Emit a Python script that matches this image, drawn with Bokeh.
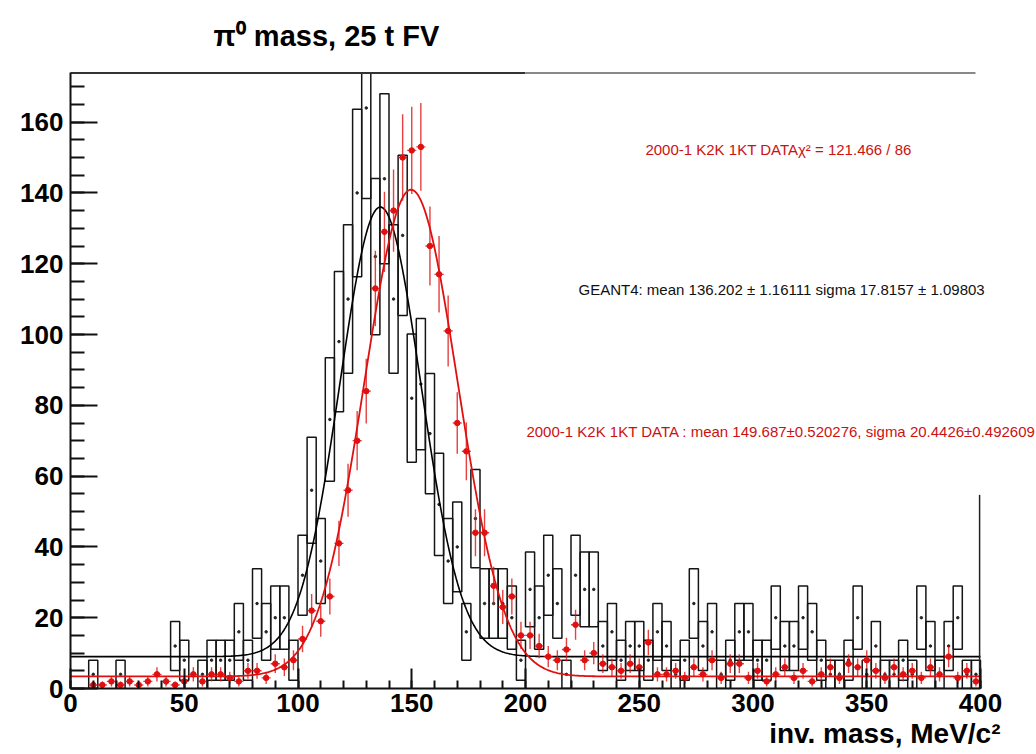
import numpy as np
from bokeh.plotting import figure
from bokeh.models import Label, Range1d, FixedTicker, ColumnDataSource, Title
from bokeh.embed import file_html
from bokeh.resources import INLINE

# ---------------- data ----------------
bin_width = 4.0
bin_low = [4.0 * i for i in range(100)]

# GEANT4 MC (scaled histogram, scale factor 4)
mc_scale = 4.0
mc_values = [0, 0, 4, 0, 0, 4, 0, 0, 0, 0,
             0, 12, 8, 0, 4, 8, 8, 8, 16, 8,
             24, 16, 20, 20, 8, 32, 56, 36, 76, 98,
             110, 140, 164, 122, 144, 110, 128, 82, 86, 72,
             52, 36, 40, 16, 48, 24, 24, 24, 20, 8,
             28, 20, 32, 24, 4, 32, 28, 28, 12, 16,
             8, 12, 12, 8, 16, 12, 4, 8, 24, 12,
             16, 4, 8, 16, 16, 8, 8, 20, 12, 12,
             20, 16, 8, 4, 4, 8, 20, 4, 12, 4,
             4, 8, 4, 20, 12, 4, 12, 20, 4, 4]

# 2000-1 K2K 1KT data counts
data_counts = [0, 0, 1, 1, 2, 1, 2, 1, 2, 4,
               2, 1, 2, 4, 2, 4, 4, 3, 2, 5,
               5, 3, 7, 6, 8, 14, 22, 19, 26, 41,
               56, 70, 84, 113, 129, 135, 150, 152, 153, 125,
               117, 101, 75, 67, 44, 44, 29, 23, 26, 15,
               15, 12, 9, 8, 11, 18, 8, 10, 7, 6,
               5, 7, 6, 13, 4, 4, 5, 3, 6, 4,
               8, 3, 7, 7, 3, 5, 2, 4, 6, 3,
               5, 2, 4, 6, 3, 7, 6, 8, 5, 3,
               6, 4, 5, 3, 6, 4, 9, 3, 5, 2]

# fit results
geant_mean, geant_sigma, geant_amp, geant_const = 136.202, 17.8157, 127.0, 9.0
data_mean, data_sigma, data_amp, data_const = 149.687, 20.4426, 137.5, 3.4

title_text = "\u03c0\u2070 mass, 25 t FV"
xlabel_text = "inv. mass, MeV/c\u00b2"
chi2_text = "2000-1 K2K 1KT DATA\u03c7\u00b2 = 121.466 / 86"
geant_text = "GEANT4: mean 136.202 \u00b1 1.16111 sigma 17.8157 \u00b1 1.09803"
data_text = "2000-1 K2K 1KT DATA : mean 149.687\u00b10.520276, sigma 20.4426\u00b10.492609"

x_ticks = [0, 50, 100, 150, 200, 250, 300, 350, 400]
y_ticks = [0, 20, 40, 60, 80, 100, 120, 140, 160]
x_minor = list(range(0, 401, 10))
y_minor = list(range(0, 175, 5))

# ---------------- derived ----------------
lo = np.array(bin_low)
mc = np.array(mc_values, dtype=float)
dc = np.array(data_counts, dtype=float)
centers = lo + bin_width / 2

m_mc = mc > 0
mc_err = np.sqrt(mc_scale * mc)
mc_src = ColumnDataSource(dict(left=lo[m_mc], right=lo[m_mc] + bin_width,
                               bottom=(mc - mc_err)[m_mc], top=(mc + mc_err)[m_mc],
                               x=centers[m_mc], y=mc[m_mc]))

m_d = dc > 0
d_err = np.sqrt(dc)
d_src = ColumnDataSource(dict(x=centers[m_d], y=dc[m_d],
                              lo=(dc - d_err)[m_d], hi=(dc + d_err)[m_d],
                              xl=lo[m_d], xr=lo[m_d] + bin_width))

xf = np.linspace(0, 400, 801)
yf_geant = geant_amp * np.exp(-0.5 * ((xf - geant_mean) / geant_sigma) ** 2) + geant_const
yf_data = data_amp * np.exp(-0.5 * ((xf - data_mean) / data_sigma) ** 2) + data_const

# ---------------- figure ----------------
X_MAX, Y_TOP = 400.0, 173.9
X_END = 400.0 * 966.0 / 910.0      # frame reaches right canvas edge
Y_END = 688.0 / 3.54               # frame reaches top canvas edge
p = figure(width=1036, height=754, output_backend="svg", toolbar_location=None,
           x_range=Range1d(0, X_END), y_range=Range1d(0, Y_END),
           min_border_left=70, min_border_right=0, min_border_top=0, min_border_bottom=66)
p.outline_line_color = None
p.grid.visible = False
p.background_fill_color = "white"
p.border_fill_color = "white"

RED = "#e01010"

# MC boxes
p.quad(left="left", right="right", bottom="bottom", top="top", source=mc_src,
       fill_alpha=0, line_color="#151515", line_width=1.5)
p.scatter(x="x", y="y", source=mc_src, size=2.5, color="#222222", marker="circle")

# fits
p.line(xf, yf_geant, line_color="black", line_width=1.6)
p.line(xf, yf_data, line_color=RED, line_width=1.8)

# data points
p.segment(x0="x", y0="lo", x1="x", y1="hi", source=d_src, line_color=RED, line_width=1.4, line_alpha=0.8)
p.segment(x0="xl", y0="y", x1="xr", y1="y", source=d_src, line_color=RED, line_width=1.4, line_alpha=0.8)
p.scatter(x="x", y="y", source=d_src, size=5.5, color=RED, marker="circle")

# white mask above the frame top so histogram tops stop at the frame
p.quad(left=[0], right=[X_END], bottom=[Y_TOP], top=[Y_END], fill_color="white", line_color=None)

# frame lines
p.segment(x0=[0, 200], y0=[Y_TOP, Y_TOP], x1=[200, 397.8], y1=[Y_TOP, Y_TOP],
          line_color=["#333333", "#888888"], line_width=2)
p.segment(x0=[399.6], y0=[0], x1=[399.6], y1=[54.7], line_color="#222222", line_width=1.5)

# axes
for ax in (p.xaxis[0], p.yaxis[0]):
    ax.axis_line_width = 2
    ax.axis_line_color = "#111111"
    ax.major_tick_line_color = "#111111"
    ax.minor_tick_line_color = "#111111"
    ax.major_tick_line_width = 2
    ax.minor_tick_line_width = 2
    ax.major_tick_out = 0
    ax.minor_tick_out = 0
    ax.major_label_text_font = "Liberation Sans"
    ax.major_label_text_font_style = "bold"
    ax.major_label_text_font_size = "26px"
    ax.major_label_text_color = "black"

p.xaxis.ticker = FixedTicker(ticks=x_ticks, minor_ticks=x_minor)
p.yaxis.ticker = FixedTicker(ticks=y_ticks, minor_ticks=y_minor)
p.xaxis.bounds = (0, X_MAX)
p.yaxis.bounds = (0, Y_TOP)
p.xaxis.major_tick_in = 20
p.xaxis.minor_tick_in = 8
p.yaxis.major_tick_in = 27
p.yaxis.minor_tick_in = 14
p.xaxis.major_label_standoff = 5
p.yaxis.major_label_standoff = 7

# x axis title, right aligned below the axis
p.add_layout(Title(text=xlabel_text, align="right", offset=36, standoff=2,
                   text_font="Liberation Sans", text_font_style="bold",
                   text_font_size="28px", text_color="black"), "below")

# texts
p.add_layout(Label(x=62.9, y=184.2, text=title_text, text_font="Liberation Sans",
                   text_font_style="bold", text_font_size="29px", text_baseline="alphabetic",
                   text_color="black"))
p.add_layout(Label(x=252.7, y=152.3, text=chi2_text, text_font="Liberation Sans",
                   text_font_size="15px", text_baseline="middle", text_color="#cc1111"))
p.add_layout(Label(x=223.3, y=112.7, text=geant_text, text_font="Liberation Sans",
                   text_font_size="15px", text_baseline="middle", text_color="#111111"))
p.add_layout(Label(x=200.4, y=72.7, text=data_text, text_font="Liberation Sans",
                   text_font_size="15px", text_baseline="middle", text_color="#cc1111"))

open("out.html", "w").write(file_html(p, INLINE))
